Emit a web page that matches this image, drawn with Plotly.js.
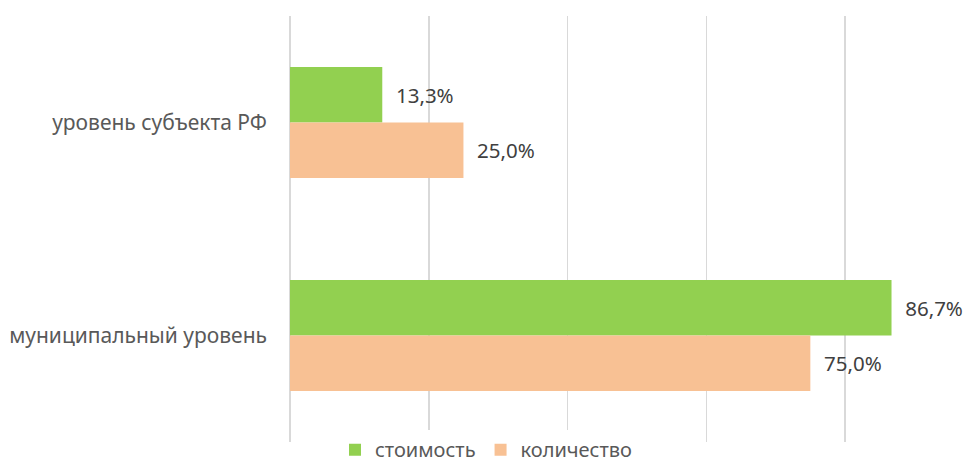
<!DOCTYPE html>
<html>
<head>
<meta charset="utf-8">
<script src="https://cdn.plot.ly/plotly-3.0.1.min.js"></script>
<style>html,body{margin:0;padding:0;background:#fff;}#chart{width:972px;height:464px;}</style>
</head>
<body>
<div id="chart"></div>
<script>
const categories = ["уровень субъекта РФ", "муниципальный уровень"];
const seriesNames = ["стоимость", "количество"];
const costValues = [13.3, 86.7];
const countValues = [25.0, 75.0];

function fmt(v) { return '\u00a0\u00a0' + v.toFixed(1).replace('.', ',') + '%'; }

const font = "Noto Sans, Open Sans, sans-serif";

const traces = [
  {
    type: 'bar', orientation: 'h', name: seriesNames[0],
    y: categories, x: costValues,
    text: costValues.map(fmt), textposition: 'outside',
    textfont: {family: font, size: 20.5, color: '#404040'},
    marker: {color: '#92d050'}, cliponaxis: false, hoverinfo: 'none'
  },
  {
    type: 'bar', orientation: 'h', name: seriesNames[1],
    y: categories, x: countValues,
    text: countValues.map(fmt), textposition: 'outside',
    textfont: {family: font, size: 20.5, color: '#404040'},
    marker: {color: '#f8c194'}, cliponaxis: false, hoverinfo: 'none'
  }
];

const layout = {
  width: 972, height: 464,
  margin: {l: 290, r: 0, t: 16, b: 22, pad: 0, autoexpand: false},
  paper_bgcolor: '#fff', plot_bgcolor: '#fff',
  barmode: 'group', bargap: 0.48, bargroupgap: 0,
  font: {family: font, color: '#595959'},
  xaxis: {
    range: [0, 98.3], dtick: 20, tick0: 0,
    showticklabels: false, ticks: '',
    showgrid: true, gridcolor: '#d9d9d9', gridwidth: 1.5,
    zeroline: true, zerolinecolor: '#d9d9d9', zerolinewidth: 1.5,
    showline: false, fixedrange: true
  },
  yaxis: {
    autorange: 'reversed', type: 'category',
    ticks: '', showgrid: false, zeroline: false, showline: false,
    tickfont: {family: font, size: 21, color: '#595959'},
    ticklabelstandoff: 22
  },
  showlegend: true,
  legend: {
    orientation: 'h', xref: 'container', yref: 'paper',
    x: 0.5, xanchor: 'center', y: -0.018, yanchor: 'middle',
    font: {family: font, size: 20, color: '#595959'},
    itemwidth: 30, tracegroupgap: 0
  }
};

Plotly.newPlot('chart', traces, layout, {displayModeBar: false, staticPlot: true});
</script>
</body>
</html>
